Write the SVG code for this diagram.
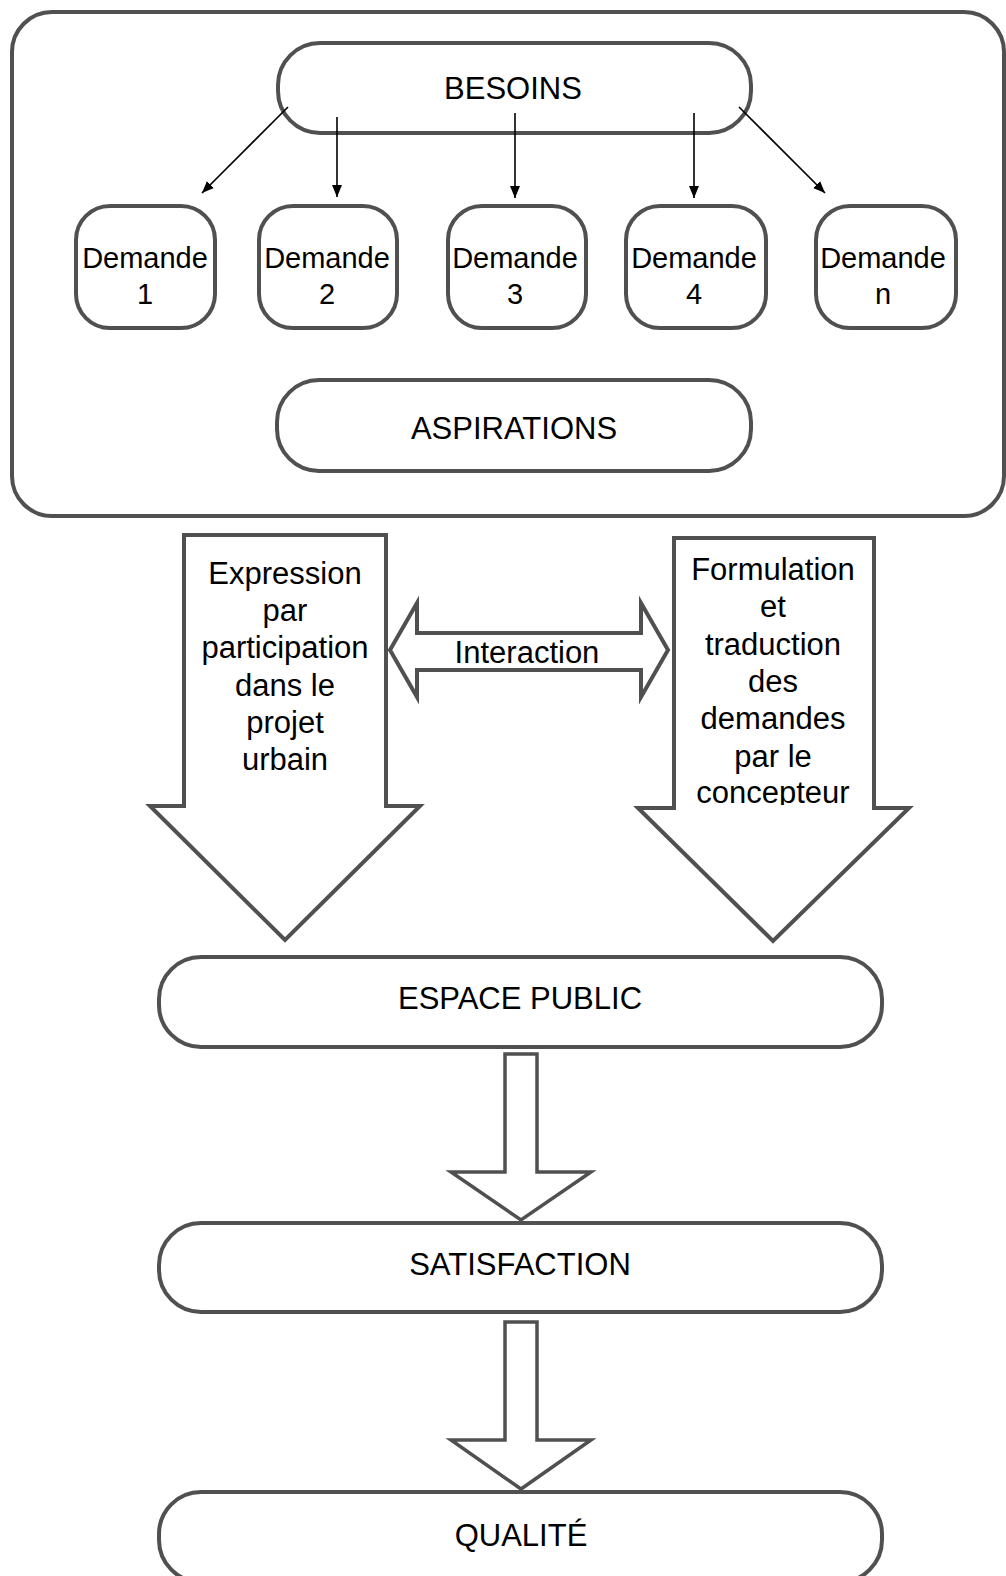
<svg xmlns="http://www.w3.org/2000/svg" width="1006" height="1576" viewBox="0 0 1006 1576">
  <defs>
    <style>
      .box { fill: #ffffff; stroke: #505050; stroke-width: 4; }
      .big { fill: #ffffff; stroke: #505050; stroke-width: 4; stroke-linejoin: miter; }
      .small { fill: #ffffff; stroke: #505050; stroke-width: 3.5; stroke-linejoin: miter; }
      .link { stroke: #000000; stroke-width: 1.6; fill: none; }
      text { font-family: "Liberation Sans", Arial, sans-serif; fill: #000000; text-anchor: middle; }
      .t { font-size: 31px; }
      .d { font-size: 29px; }
    </style>
    <marker id="head" viewBox="0 0 12 10" refX="12" refY="5" markerWidth="12" markerHeight="10" markerUnits="userSpaceOnUse" orient="auto">
      <path d="M0,0 L12,5 L0,10 z" fill="#000000"/>
    </marker>
    <clipPath id="clipRight">
      <rect x="600" y="530" width="350" height="275"/>
    </clipPath>
  </defs>

  <!-- outer frame -->
  <g id="frame">
    <rect class="box" x="12" y="12" width="992" height="504" rx="40" ry="40"/>
  </g>

  <!-- top level -->
  <g id="besoins">
    <rect class="box" x="278" y="43" width="473" height="90" rx="42" ry="42"/>
    <text class="t" x="513" y="99">BESOINS</text>
  </g>

  <g id="demande1">
    <rect class="box" x="76" y="206" width="139" height="122" rx="34" ry="34"/>
    <text class="d" x="145" y="268">Demande</text>
    <text class="d" x="145" y="304">1</text>
  </g>
  <g id="demande2">
    <rect class="box" x="259" y="206" width="138" height="122" rx="34" ry="34"/>
    <text class="d" x="327" y="268">Demande</text>
    <text class="d" x="327" y="304">2</text>
  </g>
  <g id="demande3">
    <rect class="box" x="448" y="206" width="138" height="122" rx="34" ry="34"/>
    <text class="d" x="515" y="268">Demande</text>
    <text class="d" x="515" y="304">3</text>
  </g>
  <g id="demande4">
    <rect class="box" x="626" y="206" width="140" height="122" rx="34" ry="34"/>
    <text class="d" x="694" y="268">Demande</text>
    <text class="d" x="694" y="304">4</text>
  </g>
  <g id="demanden">
    <rect class="box" x="816" y="206" width="140" height="122" rx="34" ry="34"/>
    <text class="d" x="883" y="268">Demande</text>
    <text class="d" x="883" y="304">n</text>
  </g>

  <g id="aspirations">
    <rect class="box" x="277" y="380" width="474" height="91" rx="42" ry="42"/>
    <text class="t" x="514" y="439">ASPIRATIONS</text>
  </g>

  <!-- connectors from BESOINS to the demands -->
  <g id="connectors">
    <line class="link" x1="288" y1="107" x2="202" y2="193" marker-end="url(#head)"/>
    <line class="link" x1="337" y1="117" x2="337" y2="197" marker-end="url(#head)"/>
    <line class="link" x1="515" y1="113" x2="515" y2="198" marker-end="url(#head)"/>
    <line class="link" x1="694" y1="113" x2="694" y2="198" marker-end="url(#head)"/>
    <line class="link" x1="739" y1="107" x2="825" y2="193" marker-end="url(#head)"/>
  </g>

  <!-- block arrows -->
  <g id="expression">
    <polygon class="big" points="184,535 386,535 386,806 420,806 285,940 150,806 184,806"/>
    <text class="t" x="285" y="584">Expression</text>
    <text class="t" x="285" y="621">par</text>
    <text class="t" x="285" y="658">participation</text>
    <text class="t" x="285" y="696">dans le</text>
    <text class="t" x="285" y="733">projet</text>
    <text class="t" x="285" y="770">urbain</text>
  </g>

  <g id="formulation">
    <polygon class="big" points="674,538 874,538 874,808 909,808 773,941 638,808 674,808"/>
    <g clip-path="url(#clipRight)">
      <text class="t" x="773" y="580">Formulation</text>
      <text class="t" x="773" y="617">et</text>
      <text class="t" x="773" y="655">traduction</text>
      <text class="t" x="773" y="692">des</text>
      <text class="t" x="773" y="729">demandes</text>
      <text class="t" x="773" y="767">par le</text>
      <text class="t" x="773" y="803">concepteur</text>
    </g>
  </g>

  <g id="interaction">
    <polygon class="big" points="390,650 417,603 417,633 641,633 641,603 668,650 641,697 641,670 417,670 417,697"/>
    <text class="t" x="527" y="663">Interaction</text>
  </g>

  <!-- lower chain -->
  <g id="espace-public">
    <rect class="box" x="159" y="957" width="723" height="90" rx="42" ry="42"/>
    <text class="t" x="520" y="1009">ESPACE PUBLIC</text>
  </g>

  <g id="arrow-espace-satisfaction">
    <polygon class="small" points="505,1054 537,1054 537,1172 591,1172 521,1220 451,1172 505,1172"/>
  </g>

  <g id="satisfaction">
    <rect class="box" x="159" y="1223" width="723" height="89" rx="42" ry="42"/>
    <text class="t" x="520" y="1275">SATISFACTION</text>
  </g>

  <g id="arrow-satisfaction-qualite">
    <polygon class="small" points="505,1322 537,1322 537,1440 591,1440 521,1489 451,1440 505,1440"/>
  </g>

  <g id="qualite">
    <rect class="box" x="159" y="1492" width="723" height="90" rx="42" ry="42"/>
    <text class="t" x="521" y="1546">QUALITÉ</text>
  </g>
</svg>
